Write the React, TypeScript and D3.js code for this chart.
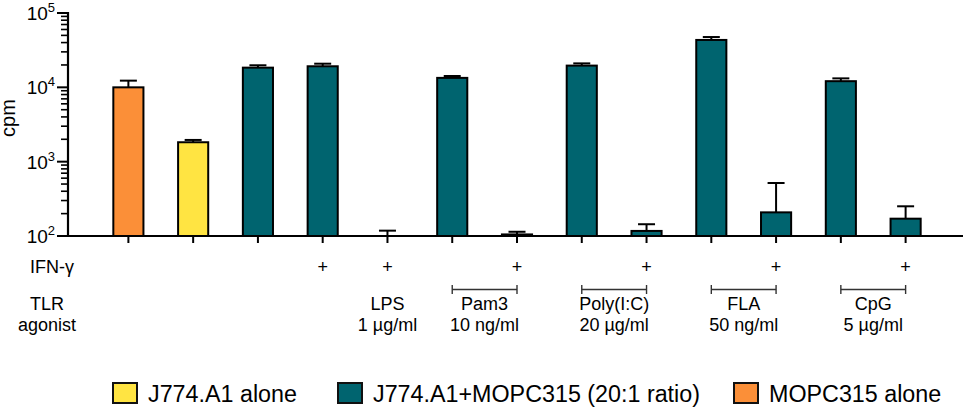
import React from 'react';
import * as d3 from 'd3';

/* ── Data ─────────────────────────────────────────────────────── */
// cell type per bar: mopc = MOPC315 alone, j774 = J774.A1 alone, co = co-culture
const groups = ['mopc', 'j774', 'co', 'co', 'co', 'co', 'co', 'co', 'co', 'co', 'co', 'co', 'co'];
const means = [10000, 1825, 18400, 19200, 100, 13400, 105, 19600, 117, 43400, 208, 12100, 171];
const upper = [12300, 1960, 19800, 20800, 118, 14200, 114, 21000, 144, 47500, 516, 13200, 251];
const ifn = [false, false, false, true, true, false, true, false, true, false, true, false, true];

const agonists = [
  { name: 'LPS', dose: '1 µg/ml', from: 4, to: 4 },
  { name: 'Pam3', dose: '10 ng/ml', from: 5, to: 6 },
  { name: 'Poly(I:C)', dose: '20 µg/ml', from: 7, to: 8 },
  { name: 'FLA', dose: '50 ng/ml', from: 9, to: 10 },
  { name: 'CpG', dose: '5 µg/ml', from: 11, to: 12 },
];

const legendItems = [
  { key: 'j774', label: 'J774.A1 alone' },
  { key: 'co', label: 'J774.A1+MOPC315 (20:1 ratio)' },
  { key: 'mopc', label: 'MOPC315 alone' },
];

const majorTicks = [100, 1000, 10000, 100000];

const colors: Record<string, string> = {
  mopc: '#FB8F38',
  j774: '#FFE442',
  co: '#00646F',
};

const FONT = '"Liberation Sans", Arial, Helvetica, sans-serif';

export default function App() {
  const width = 965;
  const height = 410;
  const x0 = 68;
  const xEnd = 963;

  const idx = means.map((_, i) => i);
  const x = d3.scalePoint<number>().domain(idx).range([96, 938]).padding(0.5);
  const y = d3.scaleLog().domain([100, 100000]).range([236, 13]);
  const barW = x.step() * 0.465;

  const minorTicks: number[] = [];
  for (let e = 2; e < 5; e++) {
    for (let m = 2; m <= 9; m++) minorTicks.push(m * Math.pow(10, e));
  }

  const legendX = [113, 338, 734];

  return (
    <svg
      width={width}
      height={height}
      style={{ position: 'absolute', left: 0, top: 0, fontFamily: FONT }}
    >
      <rect width={width} height={height} fill="#fff" />

      {/* bars */}
      {idx.map(i => {
        const cx = x(i)!;
        const top = y(means[i]);
        return (
          <g key={i}>
            <line x1={cx} x2={cx} y1={y(upper[i])} y2={top} stroke="#000" strokeWidth={2} />
            <line
              x1={cx - 8.5}
              x2={cx + 8.5}
              y1={y(upper[i])}
              y2={y(upper[i])}
              stroke="#000"
              strokeWidth={2}
            />
            <rect
              x={cx - barW / 2}
              y={top}
              width={barW}
              height={y(100) - top}
              fill={colors[groups[i]]}
              stroke="#000"
              strokeWidth={2}
            />
          </g>
        );
      })}

      {/* y axis */}
      <line x1={x0} x2={x0} y1={y(100000) - 1} y2={y(100) + 1} stroke="#000" strokeWidth={2.2} />
      {minorTicks.map(t => (
        <line key={t} x1={x0 - 7} x2={x0} y1={y(t)} y2={y(t)} stroke="#000" strokeWidth={1.6} />
      ))}
      {majorTicks.map(t => (
        <g key={t}>
          <line x1={x0 - 11} x2={x0} y1={y(t)} y2={y(t)} stroke="#000" strokeWidth={2} />
          <text x={55} y={y(t) + 7} textAnchor="end" fontSize={19}>
            10
            <tspan fontSize={13} dy={-8}>
              {Math.round(Math.log10(t))}
            </tspan>
          </text>
        </g>
      ))}
      <text transform={`translate(15,118) rotate(-90)`} textAnchor="middle" fontSize={20}>
        cpm
      </text>

      {/* x axis */}
      <line x1={x0 - 1} x2={xEnd} y1={y(100)} y2={y(100)} stroke="#000" strokeWidth={2.2} />
      {idx.map(i => (
        <line key={i} x1={x(i)} x2={x(i)} y1={y(100)} y2={y(100) + 7} stroke="#000" strokeWidth={2} />
      ))}

      {/* IFN-γ row */}
      <text x={52} y={273} textAnchor="middle" fontSize={18}>
        IFN-γ
      </text>
      {idx
        .filter(i => ifn[i])
        .map(i => (
          <text key={i} x={x(i)} y={273} textAnchor="middle" fontSize={18}>
            +
          </text>
        ))}

      {/* TLR agonist rows */}
      <text x={47} y={310} textAnchor="middle" fontSize={18}>
        TLR
      </text>
      <text x={47} y={331} textAnchor="middle" fontSize={18}>
        agonist
      </text>
      {agonists.map(a => {
        const xa = x(a.from)!;
        const xb = x(a.to)!;
        const cx = (xa + xb) / 2;
        return (
          <g key={a.name}>
            {a.from !== a.to && (
              <g stroke="#333" strokeWidth={1.4}>
                <line x1={xa} x2={xb} y1={289.5} y2={289.5} />
                <line x1={xa} x2={xa} y1={285} y2={294} />
                <line x1={xb} x2={xb} y1={285} y2={294} />
              </g>
            )}
            <text x={cx} y={310} textAnchor="middle" fontSize={18}>
              {a.name}
            </text>
            <text x={cx} y={331} textAnchor="middle" fontSize={18}>
              {a.dose}
            </text>
          </g>
        );
      })}

      {/* legend */}
      {legendItems.map((l, k) => (
        <g key={l.key}>
          <rect
            x={legendX[k]}
            y={383}
            width={24}
            height={20}
            fill={colors[l.key]}
            stroke="#111"
            strokeWidth={2}
          />
          <text x={legendX[k] + 35} y={402} fontSize={23.3}>
            {l.label}
          </text>
        </g>
      ))}
    </svg>
  );
}
